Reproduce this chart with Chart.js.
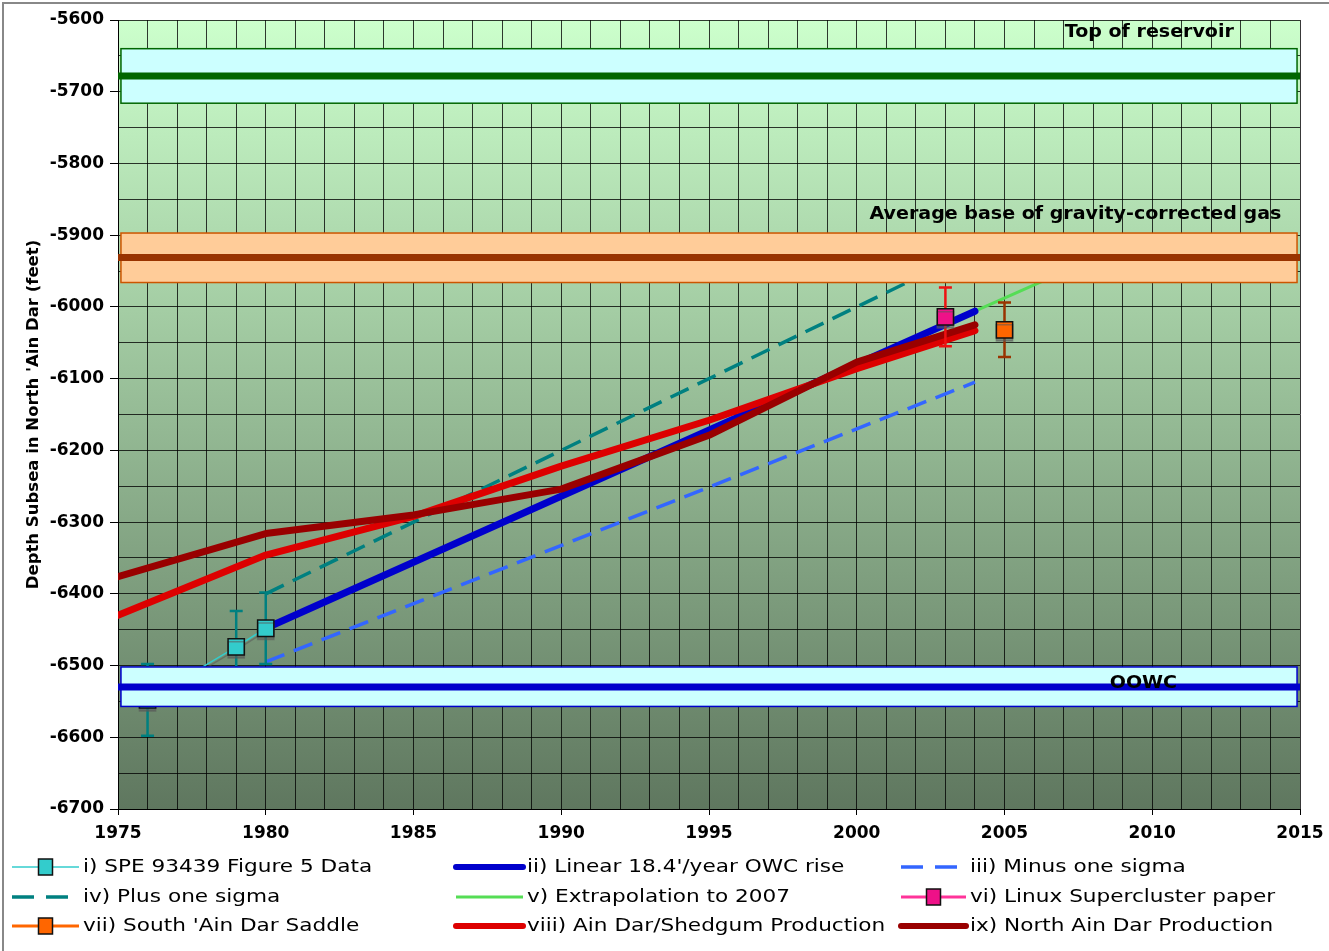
<!DOCTYPE html>
<html>
<head>
<meta charset="utf-8">
<style>
html, body { margin: 0; padding: 0; background: #fff; }
#wrap { width: 1329px; height: 951px; }
</style>
</head>
<body>
<div id="wrap"><canvas id="owcChart" width="1329" height="951"></canvas></div>

<script src="https://cdn.jsdelivr.net/npm/chart.js"></script>
<script>
// values
const speYears = [1976, 1979, 1980];
const speDepth = [-6548, -6474, -6448];
const speError = [50, 50, 50];

const linearYears = [1980, 2004];
const linearDepth = [-6448, -6006];

const minusYears = [1980, 2004];
const minusDepth = [-6495, -6105];

const plusYears = [1980, 2004];
const plusDepth = [-6400, -5920];

const extrapYears = [2004, 2007];
const extrapDepth = [-6006, -5951];

const linuxYears = [2003];
const linuxDepth = [-6014];
const linuxError = [41];

const saddleYears = [2005];
const saddleDepth = [-6032];
const saddleError = [38];

const prodYears = [1975, 1980, 1985, 1990, 1995, 2000, 2004];
const shedgumDepth = [-6430, -6346, -6292, -6222, -6158, -6086, -6033];
const northDepth = [-6376, -6316, -6290, -6254, -6179, -6077, -6025];

// horizontal reference levels
const bandLabels = ['Top of reservoir', 'Average base of gravity-corrected gas', 'OOWC'];
const bandTop = [-5640, -5897, -6502];
const bandBottom = [-5716, -5966, -6557];
const bandLevel = [-5678, -5931, -6530];

// looks of the bands (not data)
const bandStyle = [
    { fill: '#ccffff', edge: '#006600', line: '#006600', labelX: 2009.9, labelY: -5617 },
    { fill: '#ffcc99', edge: '#cc5500', line: '#993300', labelX: 2007.4, labelY: -5871 },
    { fill: '#ccffff', edge: '#0000cc', line: '#0000cc', labelX: 2009.7, labelY: -6525 }
];

const pts = (xs, ys) => xs.map((x, i) => ({ x: x, y: ys[i] }));

Chart.defaults.font.family = '"DejaVu Sans", Verdana, sans-serif';
Chart.defaults.color = '#000';

const marker = (fill) => ({
    pointStyle: 'rect',
    pointRadius: 11.5,
    pointBackgroundColor: fill,
    pointBorderColor: '#111',
    pointBorderWidth: 1.5,
    shadowed: true
});

const datasets = [
    Object.assign({ label: 'i) SPE 93439 Figure 5 Data', data: pts(speYears, speDepth),
        borderColor: '#33cccc', borderWidth: 1.5, errors: speError, errorColor: '#008080', order: 0 }, marker('#33cccc')),
    { label: "ii) Linear 18.4'/year OWC rise", data: pts(linearYears, linearDepth),
        borderColor: '#0000cc', borderWidth: 7, pointRadius: 0, borderCapStyle: 'round', order: 3 },
    { label: 'iii) Minus one sigma', data: pts(minusYears, minusDepth),
        borderColor: '#3366ff', borderWidth: 3.5, borderDash: [20, 10], pointRadius: 0, order: 4 },
    { label: 'iv) Plus one sigma', data: pts(plusYears, plusDepth),
        borderColor: '#008080', borderWidth: 3.5, borderDash: [20, 10], pointRadius: 0, order: 4 },
    { label: 'v) Extrapolation to 2007', data: pts(extrapYears, extrapDepth),
        borderColor: '#55dd55', borderWidth: 3, pointRadius: 0, borderCapStyle: 'round', order: 4 },
    Object.assign({ label: 'vi) Linux Supercluster paper', data: pts(linuxYears, linuxDepth), showLine: false,
        borderColor: '#ff3399', errors: linuxError, errorColor: '#ee1111', order: 0 }, marker('#ee1188')),
    Object.assign({ label: "vii) South 'Ain Dar Saddle", data: pts(saddleYears, saddleDepth), showLine: false,
        borderColor: '#ff6600', errors: saddleError, errorColor: '#993300', order: 0 }, marker('#ff6600')),
    { label: 'viii) Ain Dar/Shedgum Production', data: pts(prodYears, shedgumDepth),
        borderColor: '#dd0000', borderWidth: 7, pointRadius: 0, borderCapStyle: 'round', borderJoinStyle: 'round', order: 2 },
    { label: 'ix) North Ain Dar Production', data: pts(prodYears, northDepth),
        borderColor: '#990000', borderWidth: 7, pointRadius: 0, borderCapStyle: 'round', borderJoinStyle: 'round', order: 1 }
];

// the original font runs wider than DejaVu, so stretch text a little
function wideText(ctx, text, x, y, sx) {
    ctx.save();
    ctx.translate(x, y);
    ctx.scale(sx, 1);
    ctx.fillText(text, 0, 0);
    ctx.restore();
}

// background gradient and outer frame
const backdrop = {
    id: 'backdrop',
    beforeDraw(chart) {
        const { ctx, chartArea: a } = chart;
        ctx.save();
        const g = ctx.createLinearGradient(0, a.top, 0, a.bottom);
        g.addColorStop(0, '#ccffcc');
        g.addColorStop(1, '#5f775f');
        ctx.fillStyle = g;
        ctx.fillRect(a.left, a.top, a.right - a.left, a.bottom - a.top);
        ctx.strokeStyle = '#888';
        ctx.lineWidth = 2;
        ctx.beginPath();
        ctx.moveTo(3, chart.height);
        ctx.lineTo(3, 3);
        ctx.lineTo(chart.width, 3);
        ctx.stroke();
        ctx.restore();
    }
};

// vertical error bars, drawn just before their own series; markers get a drop shadow
const errorBars = {
    id: 'errorBars',
    beforeDatasetDraw(chart, args) {
        const ds = chart.data.datasets[args.index];
        const { ctx, scales: { x, y } } = chart;
        ctx.save();
        if (ds.errors) {
            ctx.strokeStyle = ds.errorColor;
            ctx.lineWidth = 2.5;
            ds.data.forEach((p, i) => {
                const px = x.getPixelForValue(p.x);
                const top = y.getPixelForValue(p.y + ds.errors[i]);
                const bot = y.getPixelForValue(p.y - ds.errors[i]);
                ctx.beginPath();
                ctx.moveTo(px, top); ctx.lineTo(px, bot);
                ctx.moveTo(px - 6.5, top); ctx.lineTo(px + 6.5, top);
                ctx.moveTo(px - 6.5, bot); ctx.lineTo(px + 6.5, bot);
                ctx.stroke();
            });
        }
        if (ds.shadowed) {
            ctx.shadowColor = 'rgba(90,90,90,0.55)';
            ctx.shadowOffsetX = 0;
            ctx.shadowOffsetY = 3;
            ctx.shadowBlur = 0;
        }
    },
    afterDatasetDraw(chart) {
        chart.ctx.restore();
    }
};

// the three level bands sit on top of the series
const bands = {
    id: 'bands',
    afterDatasetsDraw(chart) {
        const { ctx, scales: { x, y } } = chart;
        ctx.save();
        bandLabels.forEach((name, i) => {
            const s = bandStyle[i];
            const x0 = x.getPixelForValue(1975.1), x1 = x.getPixelForValue(2014.9);
            const yT = y.getPixelForValue(bandTop[i]), yB = y.getPixelForValue(bandBottom[i]);
            ctx.fillStyle = s.fill;
            ctx.fillRect(x0, yT, x1 - x0, yB - yT);
            ctx.strokeStyle = s.edge;
            ctx.lineWidth = 1.5;
            ctx.strokeRect(x0, yT, x1 - x0, yB - yT);
            const yl = y.getPixelForValue(bandLevel[i]);
            ctx.strokeStyle = s.line;
            ctx.lineWidth = 7;
            ctx.beginPath();
            ctx.moveTo(x.getPixelForValue(1975), yl);
            ctx.lineTo(x.getPixelForValue(2015), yl);
            ctx.stroke();
            ctx.fillStyle = '#000';
            ctx.font = 'bold 17px "DejaVu Sans", Verdana, sans-serif';
            ctx.textAlign = 'center';
            ctx.textBaseline = 'middle';
            wideText(ctx, name, x.getPixelForValue(s.labelX), y.getPixelForValue(s.labelY), 1.12);
        });
        ctx.restore();
    }
};

// three-column legend under the axis
const gridLegend = {
    id: 'gridLegend',
    afterDraw(chart) {
        const ctx = chart.ctx;
        const lineX = [12, 456, 901];
        const textX = [83, 527, 970];
        const rowY = [867, 897, 926];
        ctx.save();
        chart.data.datasets.forEach((ds, i) => {
            const col = i % 3, row = Math.floor(i / 3);
            const x0 = lineX[col], x1 = textX[col] - 4, yy = rowY[row];
            ctx.strokeStyle = ds.borderColor;
            ctx.lineWidth = Math.min(ds.borderWidth || 3, 6);
            ctx.lineCap = ds.borderWidth >= 7 ? 'round' : 'butt';
            ctx.setLineDash(ds.borderDash ? [22, 12] : []);
            ctx.beginPath();
            ctx.moveTo(x0, yy);
            ctx.lineTo(x1, yy);
            ctx.stroke();
            ctx.setLineDash([]);
            if (ds.pointStyle === 'rect') {
                const cx = (x0 + x1) / 2;
                ctx.fillStyle = ds.pointBackgroundColor;
                ctx.fillRect(cx - 7, yy - 8, 14, 16);
                ctx.strokeStyle = '#111';
                ctx.lineWidth = 1.5;
                ctx.strokeRect(cx - 7, yy - 8, 14, 16);
            }
            ctx.fillStyle = '#000';
            ctx.font = '18px "DejaVu Sans", Verdana, sans-serif';
            ctx.textAlign = 'left';
            ctx.textBaseline = 'middle';
            wideText(ctx, ds.label, textX[col], yy, 1.2);
        });
        ctx.restore();
    }
};

new Chart(document.getElementById('owcChart'), {
    type: 'line',
    data: { datasets: datasets },
    plugins: [backdrop, errorBars, bands, gridLegend],
    options: {
        responsive: false,
        animation: false,
        events: [],
        layout: { padding: { top: 20, right: 29, left: 0, bottom: 102 } },
        plugins: { legend: { display: false }, tooltip: { enabled: false } },
        scales: {
            x: {
                type: 'linear',
                min: 1975,
                max: 2015,
                ticks: {
                    stepSize: 1,
                    autoSkip: false,
                    maxRotation: 0,
                    padding: 8,
                    font: { size: 17, weight: 'bold' },
                    callback: v => (v % 5 === 0 ? String(v) : '')
                },
                grid: {
                    color: 'rgba(0,0,0,0.78)',
                    lineWidth: 1,
                    tickLength: 6,
                    tickColor: c => (c.tick && c.tick.value % 5 === 0 ? '#000' : 'rgba(0,0,0,0)')
                },
                border: { color: '#000', width: 1 },
                afterFit: s => { s.height = 40; s.paddingLeft = 0; s.paddingRight = 0; }
            },
            y: {
                type: 'linear',
                min: -6700,
                max: -5600,
                ticks: {
                    stepSize: 50,
                    autoSkip: false,
                    padding: 6,
                    font: { size: 17, weight: 'bold' },
                    callback: v => (v % 100 === 0 ? String(v) : '')
                },
                grid: {
                    color: 'rgba(0,0,0,0.78)',
                    lineWidth: 1,
                    tickLength: 8,
                    tickColor: c => (c.tick && c.tick.value % 100 === 0 ? '#000' : 'rgba(0,0,0,0)')
                },
                border: { color: '#000', width: 1 },
                title: {
                    display: true,
                    text: "Depth Subsea in North 'Ain Dar (feet)",
                    font: { size: 16.5, weight: 'bold' },
                    padding: { top: 24, bottom: 0 }
                },
                afterFit: s => { s.width = 118; s.paddingTop = 0; s.paddingBottom = 0; }
            }
        }
    }
});
</script>
</body>
</html>
